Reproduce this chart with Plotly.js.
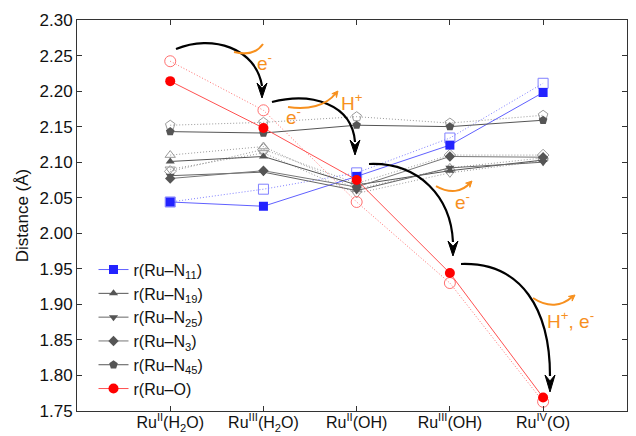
<!DOCTYPE html>
<html>
<head>
<meta charset="utf-8">
<script src="https://cdn.plot.ly/plotly-3.0.1.min.js"></script>
<style>html,body{margin:0;padding:0;background:#fff;}#chart{width:636px;height:436px;}</style>
</head>
<body>
<div id="chart"></div>
<script>
// ---- data ----
const categories = ["Ru<sup>II</sup>(H<sub>2</sub>O)", "Ru<sup>III</sup>(H<sub>2</sub>O)", "Ru<sup>II</sup>(OH)", "Ru<sup>III</sup>(OH)", "Ru<sup>IV</sup>(O)"];
const seriesNames = ["r(Ru–N<sub>11</sub>)", "r(Ru–N<sub>19</sub>)", "r(Ru–N<sub>25</sub>)", "r(Ru–N<sub>3</sub>)", "r(Ru–N<sub>45</sub>)", "r(Ru–O)"];
// solid (filled markers)
const rN11 = [2.044, 2.038, 2.080, 2.124, 2.198];
const rN19 = [2.101, 2.108, 2.068, 2.088, 2.103];
const rN25 = [2.081, 2.086, 2.060, 2.092, 2.100];
const rN3  = [2.077, 2.088, 2.065, 2.108, 2.107];
const rN45 = [2.143, 2.141, 2.152, 2.150, 2.159];
const rO   = [2.214, 2.148, 2.075, 1.944, 1.769];
// dotted (open markers)
const rN11b = [2.044, 2.062, 2.085, 2.134, 2.211];
const rN19b = [2.110, 2.122, 2.062, 2.092, 2.106];
const rN25b = [2.090, 2.113, 2.056, 2.085, 2.102];
const rN3b  = [2.087, 2.118, 2.070, 2.110, 2.110];
const rN45b = [2.152, 2.156, 2.164, 2.155, 2.166];
const rOb   = [2.242, 2.173, 2.044, 1.930, 1.763];

const solid = [rN11, rN19, rN25, rN3, rN45, rO];
const dotted = [rN11b, rN19b, rN25b, rN3b, rN45b, rOb];
const symbols = ["square", "triangle-up", "triangle-down", "diamond", "pentagon", "circle"];
const markerColors = ["#2323ff", "#555555", "#555555", "#555555", "#555555", "#ff0000"];
const lineColors = ["#6060ff", "#555555", "#666666", "#777777", "#555555", "#ff5050"];
const openColors = ["#8080ff", "#9a9a9a", "#9a9a9a", "#9a9a9a", "#9a9a9a", "#ff7070"];
const sizes = [9, 8, 8, 8, 9, 10];

const traces = [];
for (let i = 0; i < 6; i++) {
  traces.push({
    x: categories, y: dotted[i], type: "scatter", mode: "lines+markers",
    showlegend: false, hoverinfo: "skip",
    line: {color: openColors[i], width: 1, dash: "1px,2px"},
    marker: {symbol: symbols[i] + "-open", size: sizes[i] + 1, color: openColors[i], line: {width: 1, color: openColors[i]}}
  });
}
for (let i = 0; i < 6; i++) {
  traces.push({
    x: categories, y: solid[i], type: "scatter", mode: "lines+markers",
    name: seriesNames[i],
    line: {color: lineColors[i], width: 1},
    marker: {symbol: symbols[i], size: sizes[i], color: markerColors[i], line: {width: 0}}
  });
}

// pixel -> paper helpers for decorations
const L = 77, R = 627, T = 20, B = 411;
const px = X => ((X - L) / (R - L)).toFixed(4);
const py = Y => ((B - Y) / (B - T)).toFixed(4);
const P = (X, Y) => px(X) + "," + py(Y);

const shapes = [];
function curve(pts, color, width) {
  shapes.push({type: "path", xref: "paper", yref: "paper",
    path: "M " + P(pts[0], pts[1]) + " C " + P(pts[2], pts[3]) + " " + P(pts[4], pts[5]) + " " + P(pts[6], pts[7]),
    line: {color: color, width: width}, fillcolor: "rgba(0,0,0,0)"});
}
function headDown(x, y, color, w, h) {
  shapes.push({type: "path", xref: "paper", yref: "paper",
    path: "M " + P(x, y) + " L " + P(x - w, y - h) + " L " + P(x, y - h * 0.65) + " L " + P(x + w, y - h) + " Z",
    line: {color: color, width: 1}, fillcolor: color});
}
function headTo(x, y, dx, dy, color, s) {
  const n = Math.hypot(dx, dy); const ux = dx / n, uy = dy / n;
  const bx = x - ux * s, by = y - uy * s;
  const nx = -uy * s * 0.5, ny = ux * s * 0.5;
  shapes.push({type: "path", xref: "paper", yref: "paper",
    path: "M " + P(x, y) + " L " + P(bx + nx, by + ny) + " L " + P(x - ux * s * 0.6, y - uy * s * 0.6) + " L " + P(bx - nx, by - ny) + " Z",
    line: {color: color, width: 1}, fillcolor: color});
}
const K = "#000000", O = "#f7901e";
curve([176, 49, 212, 34, 256, 48, 262, 86], K, 2.2); headDown(262, 98, K, 5, 15);
curve([272, 102, 312, 92, 352, 104, 355, 142], K, 2.2); headDown(355, 155, K, 5, 15);
curve([369, 164, 420, 162, 451, 198, 453, 242], K, 2.2); headDown(453, 256, K, 5, 15);
curve([461, 264, 522, 262, 550, 310, 550, 376], K, 2.2); headDown(550, 392, K, 5, 17);
curve([234, 52, 246, 55, 256, 54, 263, 44], O, 2);
curve([288, 107, 308, 110, 326, 106, 336, 93], O, 2); headTo(338, 91, 1, -1.2, O, 6);
curve([436, 186, 450, 194, 462, 192, 470, 183], O, 2); headTo(472, 181, 1, -1, O, 6);
curve([533, 298, 548, 308, 562, 306, 572, 297], O, 2); headTo(575, 295, 1, -0.8, O, 6);

const annFont = {family: "Liberation Sans, Arial, sans-serif", size: 19, color: O};
function label(X, Y, text) {
  return {xref: "paper", yref: "paper", x: px(X), y: py(Y), text: text, showarrow: false, font: annFont, xanchor: "center", yanchor: "middle"};
}
const annotations = [
  label(265, 62, "e<sup>-</sup>"),
  label(294, 116, "e<sup>-</sup>"),
  label(352, 102, "H<sup>+</sup>"),
  label(462, 201, "e<sup>-</sup>"),
  label(570, 320, "H<sup>+</sup>, e<sup>-</sup>")
];

const font = {family: "Liberation Sans, Arial, sans-serif", size: 17, color: "#111"};
const layout = {
  width: 636, height: 436,
  margin: {l: L, r: 636 - R, t: T, b: 436 - B},
  paper_bgcolor: "#fff", plot_bgcolor: "#fff",
  font: font,
  showlegend: true,
  legend: {x: 0.03, y: 0.405, xanchor: "left", yanchor: "top", bgcolor: "rgba(0,0,0,0)", font: {family: font.family, size: 16, color: "#111"}, tracegroupgap: 0},
  xaxis: {type: "category", range: [-1, 4.9], showgrid: false, zeroline: false,
    showline: true, linecolor: "#333", linewidth: 1, mirror: "allticks",
    ticks: "inside", ticklen: 5, tickcolor: "#333", ticklabelstandoff: -3,
    tickfont: {family: font.family, size: 16, color: "#111"}, automargin: false},
  yaxis: {range: [1.75, 2.30], dtick: 0.05, tickformat: ".2f", showgrid: false, zeroline: false,
    showline: true, linecolor: "#333", linewidth: 1, mirror: "allticks",
    ticks: "inside", ticklen: 5, tickcolor: "#333", tickfont: {family: font.family, size: 17, color: "#111"},
    title: {text: "Distance (Å)", font: {family: font.family, size: 17, color: "#111"}, standoff: 6}, automargin: false},
  shapes: shapes,
  annotations: annotations
};
Plotly.newPlot("chart", traces, layout, {staticPlot: true, displayModeBar: false});
</script>
</body>
</html>
